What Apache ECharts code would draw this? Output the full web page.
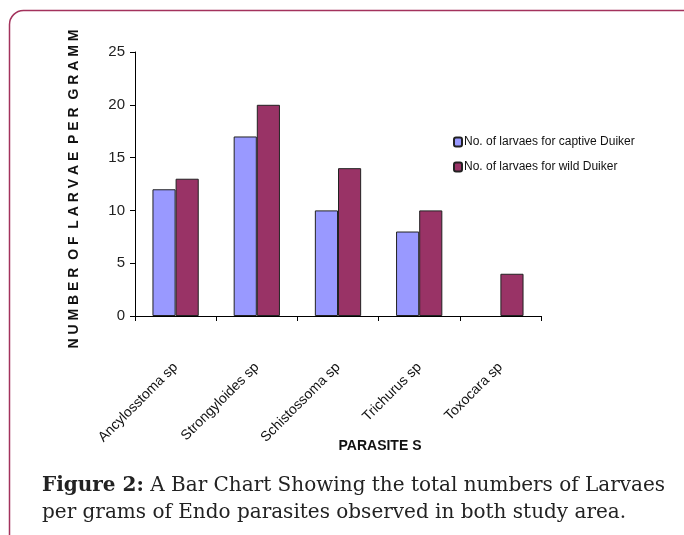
<!DOCTYPE html>
<html>
<head>
<meta charset="utf-8">
<script src="https://cdn.jsdelivr.net/npm/echarts@6/dist/echarts.min.js"></script>
<style>
  html, body { margin: 0; padding: 0; background: #fff; }
  #main { width: 684px; height: 535px; }
</style>
</head>
<body>
<div id="main"></div>
<script>
// data
var parasites = ['Ancylosstoma sp', 'Strongyloides sp', 'Schistossoma sp', 'Trichurus sp', 'Toxocara sp']
var captive = [12, 17, 10, 8, 0]
var wild = [13, 20, 14, 10, 4]
var seriesNames = ['No. of larvaes for captive Duiker', 'No. of larvaes for wild Duiker']

// zero bars get no outline, like the original
function bars(arr) {
  return arr.map(function (v) {
    return v === 0 ? { value: v, itemStyle: { borderWidth: 0 } } : v
  })
}

var sans = '"Liberation Sans", Arial, sans-serif'
var myChart = echarts.init(document.getElementById('main'))
var option = {
  backgroundColor: '#fff',
  animation: false,
  grid: { left: 135, right: 143, top: 52, bottom: 219 },
  legend: {
    orient: 'vertical',
    left: 448,
    top: 131,
    itemWidth: 8,
    itemHeight: 9,
    itemGap: 13,
    textStyle: { fontFamily: sans, fontSize: 12, color: '#111', padding: [0, 0, 0, -3] },
    data: seriesNames
  },
  xAxis: {
    type: 'category',
    data: parasites,
    axisLine: { lineStyle: { color: '#000', width: 1 } },
    axisTick: { show: true, length: 5, lineStyle: { color: '#000' } },
    axisLabel: {
      rotate: 45,
      margin: 49,
      fontFamily: sans,
      fontSize: 14,
      color: '#111',
      interval: 0
    }
  },
  yAxis: {
    type: 'value',
    min: 0,
    max: 25,
    interval: 5,
    splitLine: { show: false },
    axisLine: { show: true, lineStyle: { color: '#000' } },
    axisTick: { show: true, length: 5, lineStyle: { color: '#000' } },
    axisLabel: { fontFamily: sans, fontSize: 15, color: '#222', margin: 10 }
  },
  series: [
    {
      name: seriesNames[0],
      type: 'bar',
      data: bars(captive),
      barGap: '0%',
      barCategoryGap: '43%',
      itemStyle: { color: '#9999ff', borderColor: '#222', borderWidth: 1 }
    },
    {
      name: seriesNames[1],
      type: 'bar',
      data: bars(wild),
      itemStyle: { color: '#993366', borderColor: '#222', borderWidth: 1 }
    }
  ],
  graphic: [
    {
      type: 'rect',
      shape: { x: 9.5, y: 10.5, width: 720, height: 560, r: 14 },
      style: { fill: 'none', stroke: '#a3325c', lineWidth: 1.5 },
      silent: true
    },
    {
      type: 'text',
      x: 74,
      y: 189,
      rotation: Math.PI / 2,
      style: {
        text: 'N U M B E R  O F  L A R V A E  P E R  G R A M M',
        fontFamily: sans,
        fontWeight: 'bold',
        fontSize: 14,
        fill: '#111',
        align: 'center',
        verticalAlign: 'middle'
      }
    },
    {
      type: 'text',
      x: 380,
      y: 446,
      style: {
        text: 'PARASITE S',
        fontFamily: sans,
        fontWeight: 'bold',
        fontSize: 14,
        fill: '#111',
        align: 'center',
        verticalAlign: 'middle'
      }
    },
    {
      type: 'text',
      x: 42,
      y: 486,
      style: {
        rich: {
          b: { fontFamily: '"DejaVu Serif", serif', fontWeight: 'bold', fontSize: 20, fill: '#222' },
          n: { fontFamily: '"DejaVu Serif", serif', fontSize: 20, fill: '#222' }
        },
        text: '{b|Figure 2:}{n| A Bar Chart Showing the total numbers of Larvaes}',
        verticalAlign: 'middle'
      }
    },
    {
      type: 'text',
      x: 42,
      y: 513,
      style: {
        text: 'per grams of Endo parasites observed in both study area.',
        fontFamily: '"DejaVu Serif", serif',
        fontSize: 20,
        fill: '#222',
        verticalAlign: 'middle'
      }
    }
  ]
}
myChart.setOption(option)
</script>
</body>
</html>
